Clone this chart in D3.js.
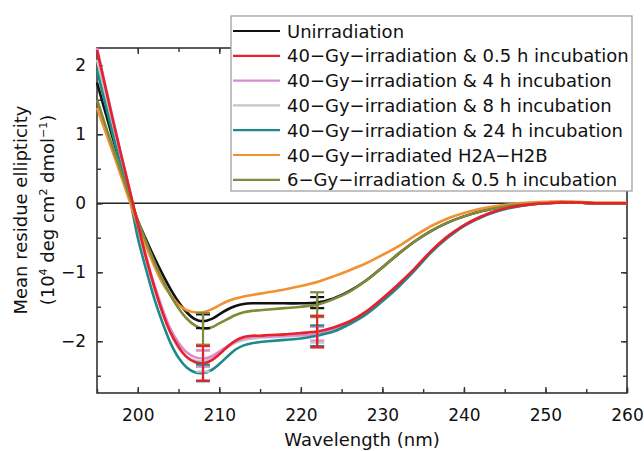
<!DOCTYPE html>
<html>
<head>
<meta charset="utf-8">
<script src="https://cdn.jsdelivr.net/npm/d3@7"></script>
<style>
    body { margin: 0; background: #fff; }
    svg { display: block; }
    text { font-family: "DejaVu Sans", sans-serif; fill: #111; }
</style>
</head>
<body>
<script>
//wrap everything in a self-executing function
(function(){

//wavelengths (nm) of the sampled points
var wavelengths = [195,196,197,198,199,200,201,202,203,204,205,206,207,208,209,210,211,212,213,214,215,216,218,220,222,224,226,228,230,232,234,236,238,240,242,244,246,248,250,252,254,256,258,260];

//legend labels
var seriesNames = [
    "Unirradiation",
    "40\u2212Gy\u2212irradiation & 0.5 h incubation",
    "40\u2212Gy\u2212irradiation & 4 h incubation",
    "40\u2212Gy\u2212irradiation & 8 h incubation",
    "40\u2212Gy\u2212irradiation & 24 h incubation",
    "40\u2212Gy\u2212irradiated H2A\u2212H2B",
    "6\u2212Gy\u2212irradiation & 0.5 h incubation"
];

var seriesColors = ["#111111", "#e8202a", "#d98bd0", "#c6c6c6", "#1e8a8c", "#f39032", "#7f8b3a"];

//mean residue ellipticity (10^4 deg cm2 dmol-1), one array per series
var unirradiated = [1.75,1.33,0.92,0.52,0.12,-0.25,-0.52,-0.78,-1.02,-1.24,-1.43,-1.58,-1.68,-1.71,-1.68,-1.61,-1.54,-1.49,-1.46,-1.45,-1.45,-1.45,-1.45,-1.45,-1.44,-1.38,-1.27,-1.12,-0.93,-0.73,-0.55,-0.4,-0.28,-0.19,-0.12,-0.07,-0.03,-0.01,0.0,0.01,0.01,0.0,0.0,0.0];
var gy40h05 = [2.22,1.7,1.18,0.68,0.2,-0.3,-0.78,-1.2,-1.57,-1.87,-2.08,-2.23,-2.3,-2.32,-2.28,-2.19,-2.08,-1.99,-1.94,-1.92,-1.92,-1.91,-1.9,-1.88,-1.86,-1.8,-1.71,-1.57,-1.38,-1.17,-0.94,-0.69,-0.48,-0.32,-0.2,-0.11,-0.05,-0.02,0.0,0.01,0.01,0.0,0.0,0.0];
var gy40h4 = [2.25,1.72,1.2,0.68,0.18,-0.3,-0.76,-1.17,-1.52,-1.82,-2.02,-2.16,-2.23,-2.25,-2.22,-2.15,-2.07,-2.0,-1.96,-1.94,-1.93,-1.93,-1.92,-1.91,-1.89,-1.82,-1.72,-1.58,-1.39,-1.18,-0.95,-0.7,-0.49,-0.32,-0.2,-0.11,-0.05,-0.02,0.0,0.01,0.01,0.0,0.0,0.0];
var gy40h8 = [2.08,1.6,1.1,0.62,0.15,-0.35,-0.8,-1.22,-1.58,-1.88,-2.1,-2.22,-2.28,-2.29,-2.25,-2.17,-2.09,-2.02,-1.98,-1.96,-1.95,-1.94,-1.93,-1.92,-1.9,-1.83,-1.73,-1.59,-1.4,-1.19,-0.95,-0.7,-0.49,-0.32,-0.2,-0.11,-0.05,-0.02,0.0,0.01,0.01,0.0,0.0,0.0];
var gy40h24 = [1.93,1.45,0.97,0.5,0.08,-0.5,-0.95,-1.37,-1.72,-2.02,-2.24,-2.38,-2.45,-2.46,-2.42,-2.33,-2.22,-2.12,-2.06,-2.03,-2.01,-2.0,-1.98,-1.96,-1.92,-1.86,-1.75,-1.61,-1.42,-1.21,-0.97,-0.71,-0.5,-0.33,-0.21,-0.12,-0.06,-0.02,0.0,0.01,0.01,0.0,0.0,0.0];
var h2ah2b = [1.38,1.05,0.72,0.38,0.03,-0.32,-0.62,-0.9,-1.15,-1.33,-1.47,-1.55,-1.58,-1.58,-1.54,-1.48,-1.42,-1.38,-1.35,-1.33,-1.31,-1.29,-1.25,-1.2,-1.14,-1.06,-0.97,-0.87,-0.75,-0.62,-0.47,-0.33,-0.22,-0.14,-0.08,-0.04,-0.01,0.01,0.02,0.03,0.02,0.01,0.01,0.01];
var gy6h05 = [1.5,1.14,0.79,0.44,0.1,-0.25,-0.55,-0.84,-1.1,-1.33,-1.52,-1.67,-1.77,-1.82,-1.8,-1.74,-1.68,-1.62,-1.58,-1.56,-1.55,-1.54,-1.52,-1.5,-1.47,-1.39,-1.28,-1.12,-0.93,-0.73,-0.55,-0.4,-0.28,-0.19,-0.12,-0.07,-0.03,-0.01,0.0,0.01,0.01,0.0,0.0,0.0];

var seriesValues = [unirradiated, gy40h05, gy40h4, gy40h8, gy40h24, h2ah2b, gy6h05];

//error bars at 208 and 222 nm (half-widths), null where none is shown
var errorWavelengths = [208, 222];
var errorSizes = [[0.1, 0.08], [0.25, 0.23], [0.12, 0.1], [0.15, 0.12], [0.12, 0.15], null, [0.23, 0.18]];

//order in which the curves are stacked (last on top)
var drawOrder = [0, 3, 2, 4, 5, 6, 1];

var xTicks = [200, 210, 220, 230, 240, 250, 260];
var yTicks = [-2, -1, 0, 1, 2];

window.onload = drawChart();

function drawChart(){

    var width = 644,
        height = 451;

    var plot = {left: 97, right: 627, top: 48, bottom: 393};

    var svg = d3.select("body")
        .append("svg")
        .attr("width", width)
        .attr("height", height);

    var x = d3.scaleLinear()
        .domain([195, 260])
        .range([plot.left, plot.right]);

    var y = d3.scaleLinear()
        .domain([-2.75, 2.25])
        .range([plot.bottom, plot.top]);

    //minor ticks first, then major ones with labels
    var xMinor = d3.range(195, 261, 5),
        yMinor = d3.range(-2.5, 2.01, 0.5);

    addAxis(d3.axisBottom(x).tickValues(xMinor).tickSizeInner(-4).tickSizeOuter(0).tickFormat(""), "translate(0," + plot.bottom + ")");
    addAxis(d3.axisTop(x).tickValues(xMinor).tickSizeInner(-4).tickSizeOuter(0).tickFormat(""), "translate(0," + plot.top + ")");
    addAxis(d3.axisLeft(y).tickValues(yMinor).tickSizeInner(-4).tickSizeOuter(0).tickFormat(""), "translate(" + plot.left + ",0)");
    addAxis(d3.axisRight(y).tickValues(yMinor).tickSizeInner(-4).tickSizeOuter(0).tickFormat(""), "translate(" + plot.right + ",0)");

    var xAxis = addAxis(d3.axisBottom(x).tickValues(xTicks).tickSizeInner(-6).tickSizeOuter(0).tickPadding(16).tickFormat(d3.format("d")), "translate(0," + plot.bottom + ")");
    addAxis(d3.axisTop(x).tickValues(xTicks).tickSizeInner(-6).tickSizeOuter(0).tickFormat(""), "translate(0," + plot.top + ")");
    var yAxis = addAxis(d3.axisLeft(y).tickValues(yTicks).tickSizeInner(-6).tickSizeOuter(0).tickPadding(11).tickFormat(function(d){ return d < 0 ? "\u2212" + Math.abs(d) : d; }), "translate(" + plot.left + ",0)");
    addAxis(d3.axisRight(y).tickValues(yTicks).tickSizeInner(-6).tickSizeOuter(0).tickFormat(""), "translate(" + plot.right + ",0)");

    xAxis.selectAll("text").style("font-size", "17px");
    yAxis.selectAll("text").style("font-size", "17px");

    //frame
    svg.append("rect")
        .attr("x", plot.left)
        .attr("y", plot.top)
        .attr("width", plot.right - plot.left)
        .attr("height", plot.bottom - plot.top)
        .attr("fill", "none")
        .attr("stroke", "#333")
        .attr("stroke-width", 1.6);

    //zero line
    svg.append("line")
        .attr("x1", plot.left)
        .attr("x2", plot.right)
        .attr("y1", y(0))
        .attr("y2", y(0))
        .attr("stroke", "#222")
        .attr("stroke-width", 1.3);

    //curves
    var line = d3.line()
        .x(function(d){ return x(d[0]); })
        .y(function(d){ return y(d[1]); })
        .curve(d3.curveCatmullRom.alpha(0.5));

    drawOrder.forEach(function(s){
        var pts = wavelengths.map(function(w, i){ return [w, seriesValues[s][i]]; });

        svg.append("path")
            .datum(pts)
            .attr("fill", "none")
            .attr("stroke", seriesColors[s])
            .attr("stroke-width", 2.6)
            .attr("stroke-linejoin", "round")
            .attr("d", line);
    });

    //error bars
    drawOrder.forEach(function(s){
        if (!errorSizes[s]) return;

        errorWavelengths.forEach(function(w, k){
            var i = wavelengths.indexOf(w),
                v = seriesValues[s][i],
                e = errorSizes[s][k],
                g = svg.append("g")
                    .attr("stroke", seriesColors[s])
                    .attr("stroke-width", 2.2);

            g.append("line")
                .attr("x1", x(w)).attr("x2", x(w))
                .attr("y1", y(v + e)).attr("y2", y(v - e));

            [v + e, v - e].forEach(function(c){
                g.append("line")
                    .attr("x1", x(w) - 7).attr("x2", x(w) + 7)
                    .attr("y1", y(c)).attr("y2", y(c));
            });
        });
    });

    //axis titles
    svg.append("text")
        .attr("x", (plot.left + plot.right) / 2)
        .attr("y", 446)
        .attr("text-anchor", "middle")
        .style("font-size", "18px")
        .text("Wavelength (nm)");

    var yTitle = svg.append("g")
        .attr("transform", "translate(27,210) rotate(-90)");

    yTitle.append("text")
        .attr("text-anchor", "middle")
        .style("font-size", "18px")
        .text("Mean residue ellipticity");

    var unit = yTitle.append("text")
        .attr("y", 27)
        .attr("text-anchor", "middle")
        .style("font-size", "18px");

    unit.append("tspan").text("(10");
    unit.append("tspan").attr("dy", -7).style("font-size", "11px").text("4");
    unit.append("tspan").attr("dy", 7).text(" deg cm");
    unit.append("tspan").attr("dy", -7).style("font-size", "11px").text("2");
    unit.append("tspan").attr("dy", 7).text(" dmol");
    unit.append("tspan").attr("dy", -7).style("font-size", "11px").text("\u22121");
    unit.append("tspan").attr("dy", 7).text(")");

    //legend box
    var legend = svg.append("g");

    legend.append("rect")
        .attr("x", 231)
        .attr("y", 16)
        .attr("width", 401)
        .attr("height", 175)
        .attr("fill", "#fff")
        .attr("stroke", "#999")
        .attr("stroke-width", 1.2);

    seriesNames.forEach(function(name, i){
        var cy = 31 + i * 24.8;

        legend.append("line")
            .attr("x1", 233)
            .attr("x2", 280)
            .attr("y1", cy)
            .attr("y2", cy)
            .attr("stroke", seriesColors[i])
            .attr("stroke-width", 2.2);

        legend.append("text")
            .attr("x", 287)
            .attr("y", cy + 6.5)
            .style("font-size", "18px")
            .text(name);
    });

    function addAxis(axis, transform){
        var g = svg.append("g")
            .attr("transform", transform)
            .call(axis);
        g.select(".domain").remove();
        g.selectAll("line").attr("stroke", "#333").attr("stroke-width", 1.4);
        return g;
    }
};

})();
</script>
</body>
</html>
